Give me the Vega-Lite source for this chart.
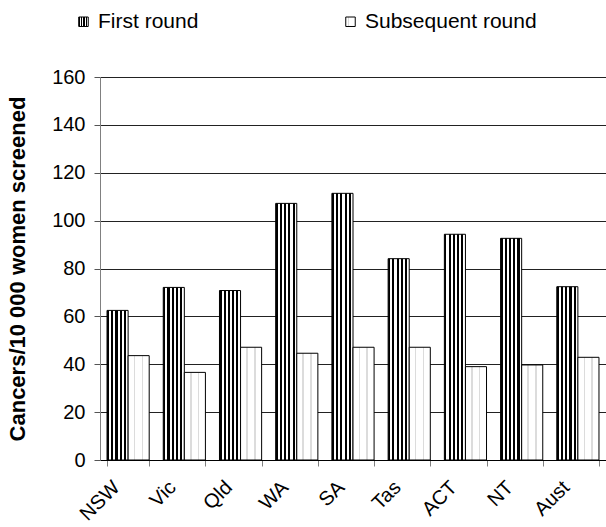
{
  "$schema": "https://vega.github.io/schema/vega-lite/v6.json",
  "width": 506,
  "height": 383,
  "autosize": "none",
  "padding": {"left": 100, "top": 77, "right": 0, "bottom": 67},
  "data": {
    "values": [
      {"state": "NSW", "round": "First round", "value": 62.5},
      {"state": "NSW", "round": "Subsequent round", "value": 43.6},
      {"state": "Vic", "round": "First round", "value": 72.1},
      {"state": "Vic", "round": "Subsequent round", "value": 36.6},
      {"state": "Qld", "round": "First round", "value": 70.8},
      {"state": "Qld", "round": "Subsequent round", "value": 47.1},
      {"state": "WA", "round": "First round", "value": 107.2},
      {"state": "WA", "round": "Subsequent round", "value": 44.6},
      {"state": "SA", "round": "First round", "value": 111.4},
      {"state": "SA", "round": "Subsequent round", "value": 47.1},
      {"state": "Tas", "round": "First round", "value": 84.1},
      {"state": "Tas", "round": "Subsequent round", "value": 47.1},
      {"state": "ACT", "round": "First round", "value": 94.3},
      {"state": "ACT", "round": "Subsequent round", "value": 39.0},
      {"state": "NT", "round": "First round", "value": 92.6},
      {"state": "NT", "round": "Subsequent round", "value": 39.7},
      {"state": "Aust", "round": "First round", "value": 72.4},
      {"state": "Aust", "round": "Subsequent round", "value": 42.9}
    ]
  },
  "mark": {"type": "bar", "stroke": "black", "strokeWidth": 1},
  "encoding": {
    "x": {
      "field": "state",
      "type": "nominal",
      "sort": null,
      "scale": {"paddingInner": 0.25, "paddingOuter": 0.125},
      "axis": {
        "title": null,
        "tickBand": "extent",
        "tickSize": 6,
        "tickColor": "#808080",
        "domainColor": "black",
        "labelAngle": -45,
        "labelAlign": "right",
        "labelBaseline": "middle",
        "labelPadding": 18,
        "labelOffset": -12,
        "labelFontSize": 20,
        "labelColor": "black",
        "grid": false
      }
    },
    "xOffset": {"field": "round", "type": "nominal", "sort": null},
    "y": {
      "field": "value",
      "type": "quantitative",
      "scale": {"domain": [0, 160], "nice": false},
      "axis": {
        "title": "Cancers/10 000 women screened",
        "titleFontSize": 22,
        "titleFontWeight": "bold",
        "titleColor": "black",
        "titlePadding": 22,
        "values": [0, 20, 40, 60, 80, 100, 120, 140, 160],
        "tickSize": 6,
        "tickColor": "#555555",
        "domainColor": "#808080",
        "labelFontSize": 20,
        "labelColor": "black",
        "labelPadding": 9,
        "grid": true,
        "gridColor": "#222222",
        "gridOpacity": 1
      }
    },
    "fill": {
      "field": "round",
      "type": "nominal",
      "sort": null,
      "scale": {
        "domain": ["First round", "Subsequent round"],
        "range": [
          {"expr": "{gradient: 'linear', x1: 0, y1: 0, x2: 1, y2: 0, stops: [{offset: 0, color: '#000'}, {offset: 0.1, color: '#000'}, {offset: 0.1, color: '#fff'}, {offset: 0.2, color: '#fff'}, {offset: 0.2, color: '#000'}, {offset: 0.3, color: '#000'}, {offset: 0.3, color: '#fff'}, {offset: 0.4, color: '#fff'}, {offset: 0.4, color: '#000'}, {offset: 0.5, color: '#000'}, {offset: 0.5, color: '#fff'}, {offset: 0.6, color: '#fff'}, {offset: 0.6, color: '#000'}, {offset: 0.7, color: '#000'}, {offset: 0.7, color: '#fff'}, {offset: 0.8, color: '#fff'}, {offset: 0.8, color: '#000'}, {offset: 0.9, color: '#000'}, {offset: 0.9, color: '#fff'}, {offset: 1, color: '#fff'}]}"},
          {"expr": "{gradient: 'linear', x1: 0, y1: 0, x2: 1, y2: 0, stops: [{offset: 0, color: '#fff'}, {offset: 0.27, color: '#fff'}, {offset: 0.27, color: '#dcdcdc'}, {offset: 0.34, color: '#dcdcdc'}, {offset: 0.34, color: '#fff'}, {offset: 0.64, color: '#fff'}, {offset: 0.64, color: '#dcdcdc'}, {offset: 0.71, color: '#dcdcdc'}, {offset: 0.71, color: '#fff'}, {offset: 1, color: '#fff'}]}"}
        ]
      },
      "legend": {
        "title": null,
        "orient": "none",
        "direction": "horizontal",
        "legendX": -27,
        "legendY": -66,
        "symbolType": "square",
        "symbolSize": 90,
        "symbolStrokeColor": "black",
        "symbolStrokeWidth": 1,
        "labelFontSize": 21,
        "labelColor": "black",
        "labelOffset": 4,
        "labelLimit": 300,
        "columnPadding": 141
      }
    }
  },
  "config": {
    "view": {"stroke": null},
    "font": "Liberation Sans"
  }
}
